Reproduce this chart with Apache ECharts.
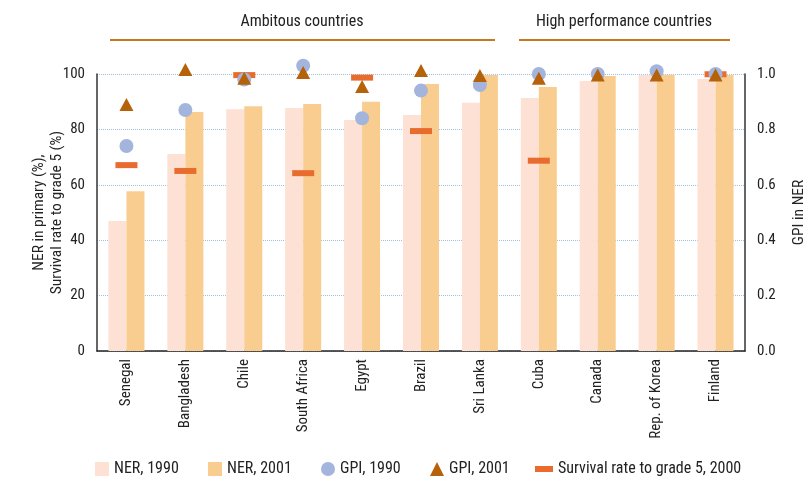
<!DOCTYPE html>
<html><head><meta charset="utf-8">
<script src="https://cdn.jsdelivr.net/npm/echarts@6/dist/echarts.min.js"></script>
<style>html,body{margin:0;padding:0;background:#fff}#c{width:806px;height:483px}</style>
</head><body><div id="c"></div>
<script>
const categories = ['Senegal','Bangladesh','Chile','South Africa','Egypt','Brazil','Sri Lanka','Cuba','Canada','Rep. of Korea','Finland'];
const ner1990 = [46.9, 71.1, 87.3, 87.7, 83.4, 85.2, 89.6, 91.3, 97.5, 99.6, 98.2];
const ner2001 = [57.7, 86.3, 88.4, 89.2, 90.0, 96.4, 99.6, 95.3, 99.3, 99.7, 99.6];
const gpi1990 = [0.74, 0.87, 0.98, 1.03, 0.84, 0.94, 0.96, 1.00, 1.00, 1.01, 1.00];
const gpi2001 = [0.89, 1.016, 0.985, 1.005, 0.955, 1.013, 0.995, 0.985, 0.996, 0.996, 0.996];
const survival2000 = [67.1, 65.0, 99.6, 64.2, 98.7, 79.4, null, 68.7, null, null, 99.9];
const leftTicks = [0, 20, 40, 60, 80, 100];
const groupLabels = ['Ambitous countries', 'High performance countries'];

const FONT = "'Liberation Sans Narrow', 'Roboto Condensed', 'Roboto', sans-serif";
const C = {ner90:'#fce1d4', ner01:'#f9cd90', gpi90:'#a3b5dc', gpi01:'#b5620a', surv:'#e86c2e', head:'#c8781e'};
const chart = echarts.init(document.getElementById('c'), null, {renderer:'canvas'});
const legendTxt = {fontFamily: FONT, fontSize: 16, color: '#222'};
function leg(name, left, icon, w){
  return {data:[{name, icon}], left, top: 461, itemWidth: w || 14, itemHeight: 14, itemGap: 0, textStyle: legendTxt, selectedMode:false, padding:0};
}
chart.setOption({
  animation:false,
  textStyle:{fontFamily:FONT},
  grid:{left:97, right:61, top:74, bottom:132, outerBoundsMode:'none', containLabel:false},
  legend:[
    leg('NER, 1990', 95, 'path://M0,0H1V1H0Z'),
    leg('NER, 2001', 208, 'path://M0,0H1V1H0Z'),
    leg('GPI, 1990', 321, 'circle'),
    leg('GPI, 2001', 430, 'path://M0.5,0L1,1H0Z'),
    leg('Survival rate to grade 5, 2000', 535, 'path://M0,0H18V6H0Z', 18)
  ],
  xAxis:{type:'category', data:categories,
    axisLine:{lineStyle:{color:'#222', width:1.5}}, axisTick:{show:false},
    axisLabel:{rotate:90, fontSize:15, color:'#222', fontFamily:FONT, margin:8}},
  yAxis:[
    {type:'value', min:0, max:100, interval:20,
     name:'NER in primary (%),\nSurvival rate to grade 5 (%)', nameLocation:'middle', nameGap:31, nameRotate:90,
     nameMoveOverlap:false,
     nameTextStyle:{fontSize:15.5, color:'#222', fontFamily:FONT, lineHeight:18},
     axisLine:{show:true, lineStyle:{color:'#333', width:1.5}}, axisTick:{show:false},
     axisLabel:{fontSize:15, color:'#222', fontFamily:FONT, margin:12},
     splitLine:{lineStyle:{type:'dotted', color:'#9fc3dc', width:1}}},
    {type:'value', min:0, max:1, interval:0.2, position:'right',
     name:'GPI in NER', nameLocation:'middle', nameGap:46, nameRotate:90,
     nameTextStyle:{fontSize:15.5, color:'#222', fontFamily:FONT},
     axisLine:{show:true, lineStyle:{color:'#333', width:1.5}}, axisTick:{show:false},
     axisLabel:{fontSize:15, color:'#222', fontFamily:FONT, margin:12, formatter:v=>v.toFixed(1)},
     splitLine:{show:false}}
  ],
  series:[
    {name:'NER, 1990', type:'bar', data:ner1990, barWidth:18, barGap:'0%', itemStyle:{color:C.ner90}},
    {name:'NER, 2001', type:'bar', data:ner2001, barWidth:18, barGap:'0%', itemStyle:{color:C.ner01}},
    {name:'Survival rate to grade 5, 2000', type:'scatter', data:survival2000, symbol:'rect', symbolSize:[22,6], itemStyle:{color:C.surv, opacity:1}, clip:false, z:3},
    {name:'GPI, 1990', type:'scatter', yAxisIndex:1, data:gpi1990, symbol:'circle', symbolSize:14, itemStyle:{color:C.gpi90, opacity:1}, clip:false, z:4},
    {name:'GPI, 2001', type:'scatter', yAxisIndex:1, data:gpi2001, symbol:'triangle', symbolSize:[14,13], itemStyle:{color:C.gpi01, opacity:1}, clip:false, z:5}
  ],
  graphic:[
    {type:'text', style:{text:groupLabels[0], x:302, y:22, align:'center', verticalAlign:'middle', font:'16px '+FONT, fill:'#222'}},
    {type:'text', style:{text:groupLabels[1], x:624, y:22, align:'center', verticalAlign:'middle', font:'16px '+FONT, fill:'#222'}},
    {type:'line', shape:{x1:110, y1:40, x2:495, y2:40}, style:{stroke:C.head, lineWidth:2}},
    {type:'line', shape:{x1:519, y1:40, x2:730, y2:40}, style:{stroke:C.head, lineWidth:2}}
  ]
});
</script></body></html>
